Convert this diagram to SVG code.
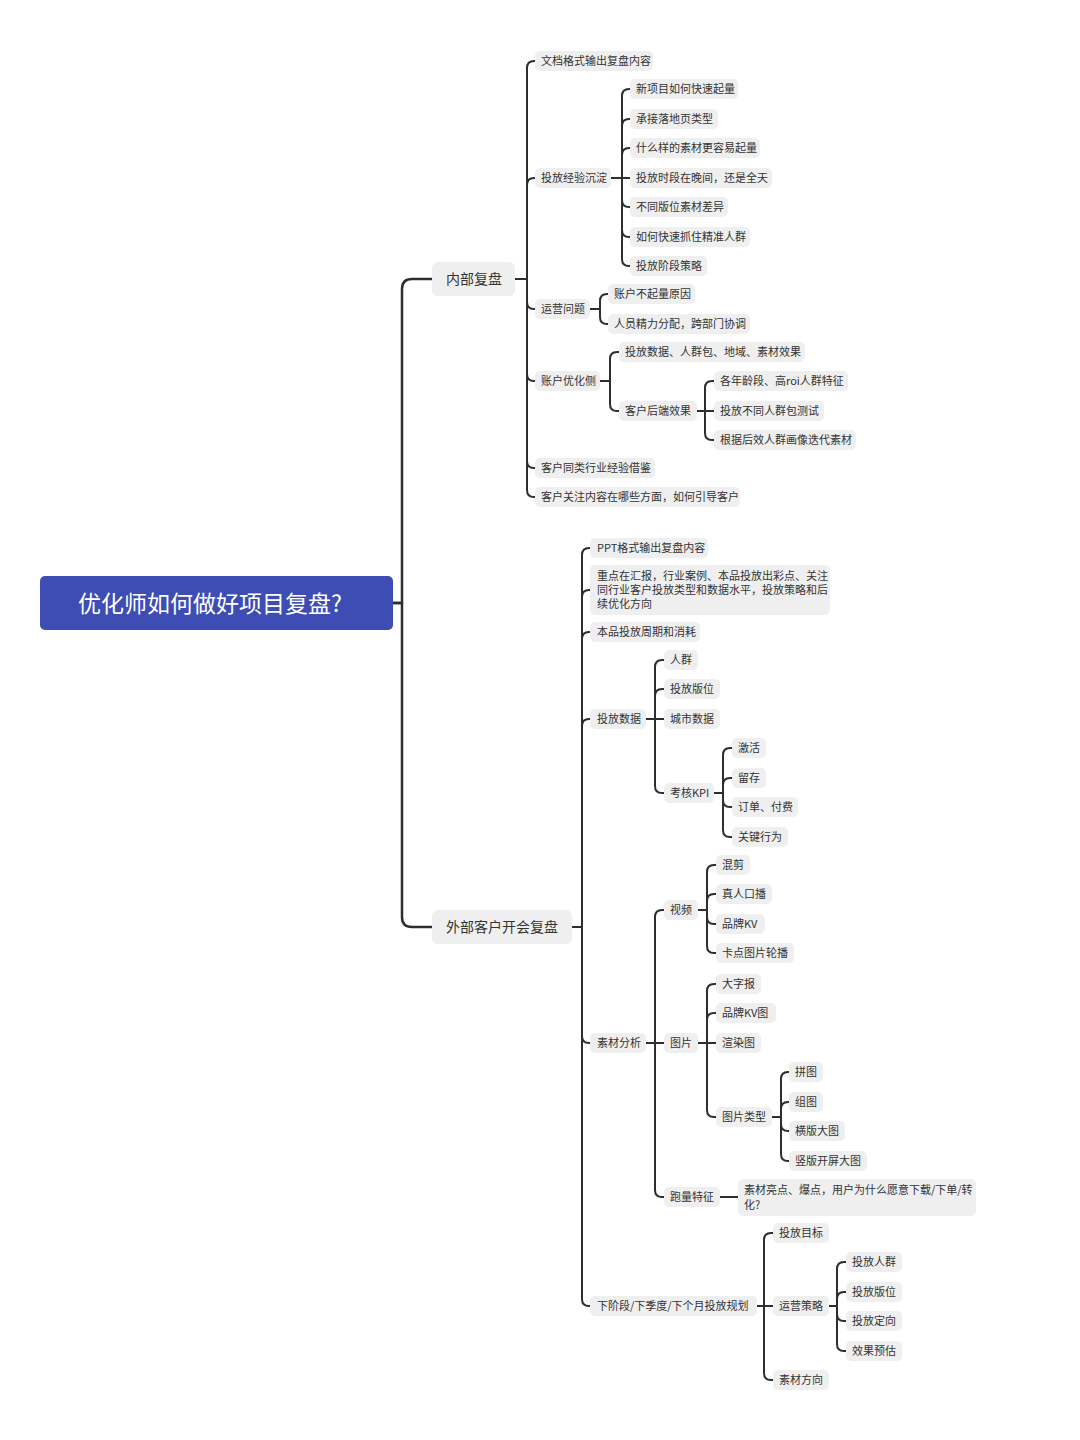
<svg xmlns="http://www.w3.org/2000/svg" width="1080" height="1440" viewBox="0 0 1080 1440">
<style>
.bg{fill:#ffffff}
.n{fill:#efefef}
.t{font-family:"Noto Sans CJK SC","Noto Sans",sans-serif;font-size:11px;fill:#333333}
.t2{font-family:"Noto Sans CJK SC","Noto Sans",sans-serif;font-size:14px;fill:#333333}
.rt{font-family:"Noto Sans CJK SC","Noto Sans",sans-serif;font-size:23px;fill:#ffffff;font-weight:400}
.c{fill:none;stroke:#2e2e2e;stroke-width:2;stroke-linecap:round;stroke-linejoin:round}
.c1{fill:none;stroke:#2e2e2e;stroke-width:2.5;stroke-linecap:round;stroke-linejoin:round}
</style>
<rect class="bg" x="0" y="0" width="1080" height="1440"/>
<g id="connectors">
<path class="c1" d="M393,603 H402 V289 Q402,279 412,279 H432"/>
<path class="c1" d="M393,603 H402 V917 Q402,927 412,927 H432"/>
<path class="c" d="M515,279 H527 V68 Q527,61 534,61 H535"/>
<path class="c" d="M515,279 H527 V185 Q527,178 534,178 H535"/>
<path class="c" d="M515,279 H527 V302 Q527,309 534,309 H535"/>
<path class="c" d="M515,279 H527 V374 Q527,381 534,381 H535"/>
<path class="c" d="M515,279 H527 V461 Q527,468 534,468 H535"/>
<path class="c" d="M515,279 H527 V490 Q527,497 534,497 H535"/>
<path class="c" d="M611,178 H622 V96 Q622,89 629,89 H630"/>
<path class="c" d="M611,178 H622 V126 Q622,119 629,119 H630"/>
<path class="c" d="M611,178 H622 V155 Q622,148 629,148 H630"/>
<path class="c" d="M611,178 H630"/>
<path class="c" d="M611,178 H622 V200 Q622,207 629,207 H630"/>
<path class="c" d="M611,178 H622 V230 Q622,237 629,237 H630"/>
<path class="c" d="M611,178 H622 V259 Q622,266 629,266 H630"/>
<path class="c" d="M590,309 H600 V301 Q600,294 607,294 H608"/>
<path class="c" d="M590,309 H600 V317 Q600,324 607,324 H608"/>
<path class="c" d="M600,381 H610 V359 Q610,352 617,352 H619"/>
<path class="c" d="M600,381 H610 V404 Q610,411 617,411 H619"/>
<path class="c" d="M697,411 H705 V388 Q705,381 712,381 H714"/>
<path class="c" d="M697,411 H714"/>
<path class="c" d="M697,411 H705 V433 Q705,440 712,440 H714"/>
<path class="c" d="M572,927 H582 V555 Q582,548 589,548 H590"/>
<path class="c" d="M572,927 H582 V597 Q582,590 589,590 H590"/>
<path class="c" d="M572,927 H582 V639 Q582,632 589,632 H590"/>
<path class="c" d="M572,927 H582 V726 Q582,719 589,719 H590"/>
<path class="c" d="M572,927 H582 V1036 Q582,1043 589,1043 H590"/>
<path class="c" d="M572,927 H582 V1299 Q582,1306 589,1306 H590"/>
<path class="c" d="M646,719 H655 V667 Q655,660 662,660 H664"/>
<path class="c" d="M646,719 H655 V696 Q655,689 662,689 H664"/>
<path class="c" d="M646,719 H664"/>
<path class="c" d="M646,719 H655 V786 Q655,793 662,793 H664"/>
<path class="c" d="M714,793 H723 V755 Q723,748 730,748 H732"/>
<path class="c" d="M714,793 H723 V785 Q723,778 730,778 H732"/>
<path class="c" d="M714,793 H723 V800 Q723,807 730,807 H732"/>
<path class="c" d="M714,793 H723 V830 Q723,837 730,837 H732"/>
<path class="c" d="M646,1043 H655 V917 Q655,910 662,910 H664"/>
<path class="c" d="M646,1043 H664"/>
<path class="c" d="M646,1043 H655 V1190 Q655,1197 662,1197 H664"/>
<path class="c" d="M698,910 H707 V872 Q707,865 714,865 H716"/>
<path class="c" d="M698,910 H707 V901 Q707,894 714,894 H716"/>
<path class="c" d="M698,910 H707 V917 Q707,924 714,924 H716"/>
<path class="c" d="M698,910 H707 V946 Q707,953 714,953 H716"/>
<path class="c" d="M698,1043 H707 V991 Q707,984 714,984 H716"/>
<path class="c" d="M698,1043 H707 V1020 Q707,1013 714,1013 H716"/>
<path class="c" d="M698,1043 H716"/>
<path class="c" d="M698,1043 H707 V1110 Q707,1117 714,1117 H716"/>
<path class="c" d="M772,1117 H781 V1079 Q781,1072 788,1072 H789"/>
<path class="c" d="M772,1117 H781 V1109 Q781,1102 788,1102 H789"/>
<path class="c" d="M772,1117 H781 V1124 Q781,1131 788,1131 H789"/>
<path class="c" d="M772,1117 H781 V1154 Q781,1161 788,1161 H789"/>
<path class="c" d="M720,1197 H738"/>
<path class="c" d="M757,1306 H764 V1240 Q764,1233 771,1233 H773"/>
<path class="c" d="M757,1306 H773"/>
<path class="c" d="M757,1306 H764 V1373 Q764,1380 771,1380 H773"/>
<path class="c" d="M829,1306 H837 V1269 Q837,1262 844,1262 H846"/>
<path class="c" d="M829,1306 H837 V1299 Q837,1292 844,1292 H846"/>
<path class="c" d="M829,1306 H837 V1314 Q837,1321 844,1321 H846"/>
<path class="c" d="M829,1306 H837 V1344 Q837,1351 844,1351 H846"/>
</g>
<g id="root"><rect x="40" y="576" width="353" height="54" rx="5" fill="#3d4db3"/><text class="rt" x="210" y="612" text-anchor="middle">优化师如何做好项目复盘?</text></g>
<g id="n-internal"><rect class="n" x="432" y="262" width="83" height="34" rx="6"/><text class="t2" x="446" y="284">内部复盘</text></g>
<g id="n-a1"><rect class="n" x="535" y="51" width="118" height="20" rx="5"/><text class="t" x="541" y="65">文档格式输出复盘内容</text></g>
<g id="n-a2"><rect class="n" x="535" y="168" width="76" height="20" rx="5"/><text class="t" x="541" y="182">投放经验沉淀</text></g>
<g id="n-a2-1"><rect class="n" x="630" y="79" width="108" height="20" rx="5"/><text class="t" x="636" y="93">新项目如何快速起量</text></g>
<g id="n-a2-2"><rect class="n" x="630" y="109" width="88" height="20" rx="5"/><text class="t" x="636" y="123">承接落地页类型</text></g>
<g id="n-a2-3"><rect class="n" x="630" y="138" width="130" height="20" rx="5"/><text class="t" x="636" y="152">什么样的素材更容易起量</text></g>
<g id="n-a2-4"><rect class="n" x="630" y="168" width="142" height="20" rx="5"/><text class="t" x="636" y="182">投放时段在晚间，还是全天</text></g>
<g id="n-a2-5"><rect class="n" x="630" y="197" width="98" height="20" rx="5"/><text class="t" x="636" y="211">不同版位素材差异</text></g>
<g id="n-a2-6"><rect class="n" x="630" y="227" width="120" height="20" rx="5"/><text class="t" x="636" y="241">如何快速抓住精准人群</text></g>
<g id="n-a2-7"><rect class="n" x="630" y="256" width="77" height="20" rx="5"/><text class="t" x="636" y="270">投放阶段策略</text></g>
<g id="n-a3"><rect class="n" x="535" y="299" width="55" height="20" rx="5"/><text class="t" x="541" y="313">运营问题</text></g>
<g id="n-a3-1"><rect class="n" x="608" y="284" width="87" height="20" rx="5"/><text class="t" x="614" y="298">账户不起量原因</text></g>
<g id="n-a3-2"><rect class="n" x="608" y="314" width="142" height="20" rx="5"/><text class="t" x="614" y="328">人员精力分配，跨部门协调</text></g>
<g id="n-a4"><rect class="n" x="535" y="371" width="65" height="20" rx="5"/><text class="t" x="541" y="385">账户优化侧</text></g>
<g id="n-a4-1"><rect class="n" x="619" y="342" width="186" height="20" rx="5"/><text class="t" x="625" y="356">投放数据、人群包、地域、素材效果</text></g>
<g id="n-a4-2"><rect class="n" x="619" y="401" width="78" height="20" rx="5"/><text class="t" x="625" y="415">客户后端效果</text></g>
<g id="n-a4-2-1"><rect class="n" x="714" y="371" width="134" height="20" rx="5"/><text class="t" x="720" y="385">各年龄段、高roi人群特征</text></g>
<g id="n-a4-2-2"><rect class="n" x="714" y="401" width="110" height="20" rx="5"/><text class="t" x="720" y="415">投放不同人群包测试</text></g>
<g id="n-a4-2-3"><rect class="n" x="714" y="430" width="142" height="20" rx="5"/><text class="t" x="720" y="444">根据后效人群画像迭代素材</text></g>
<g id="n-a5"><rect class="n" x="535" y="458" width="120" height="20" rx="5"/><text class="t" x="541" y="472">客户同类行业经验借鉴</text></g>
<g id="n-a6"><rect class="n" x="535" y="487" width="205" height="20" rx="5"/><text class="t" x="541" y="501">客户关注内容在哪些方面，如何引导客户</text></g>
<g id="n-external"><rect class="n" x="432" y="910" width="140" height="34" rx="6"/><text class="t2" x="446" y="932">外部客户开会复盘</text></g>
<g id="n-b1"><rect class="n" x="590" y="538" width="118" height="20" rx="5"/><text class="t" x="597" y="552">PPT格式输出复盘内容</text></g>
<g id="n-b2"><rect class="n" x="590" y="565" width="240" height="50" rx="5"/><text class="t" x="597" y="580">重点在汇报，行业案例、本品投放出彩点、关注</text><text class="t" x="597" y="594">同行业客户投放类型和数据水平，投放策略和后</text><text class="t" x="597" y="608">续优化方向</text></g>
<g id="n-b3"><rect class="n" x="590" y="622" width="110" height="20" rx="5"/><text class="t" x="597" y="636">本品投放周期和消耗</text></g>
<g id="n-b4"><rect class="n" x="590" y="709" width="56" height="20" rx="5"/><text class="t" x="597" y="723">投放数据</text></g>
<g id="n-b4-1"><rect class="n" x="664" y="650" width="34" height="20" rx="5"/><text class="t" x="670" y="664">人群</text></g>
<g id="n-b4-2"><rect class="n" x="664" y="679" width="56" height="20" rx="5"/><text class="t" x="670" y="693">投放版位</text></g>
<g id="n-b4-3"><rect class="n" x="664" y="709" width="56" height="20" rx="5"/><text class="t" x="670" y="723">城市数据</text></g>
<g id="n-b4-4"><rect class="n" x="664" y="783" width="50" height="20" rx="5"/><text class="t" x="670" y="797">考核KPI</text></g>
<g id="n-b4-4-1"><rect class="n" x="732" y="738" width="34" height="20" rx="5"/><text class="t" x="738" y="752">激活</text></g>
<g id="n-b4-4-2"><rect class="n" x="732" y="768" width="34" height="20" rx="5"/><text class="t" x="738" y="782">留存</text></g>
<g id="n-b4-4-3"><rect class="n" x="732" y="797" width="66" height="20" rx="5"/><text class="t" x="738" y="811">订单、付费</text></g>
<g id="n-b4-4-4"><rect class="n" x="732" y="827" width="56" height="20" rx="5"/><text class="t" x="738" y="841">关键行为</text></g>
<g id="n-b5"><rect class="n" x="590" y="1033" width="56" height="20" rx="5"/><text class="t" x="597" y="1047">素材分析</text></g>
<g id="n-b5-1"><rect class="n" x="664" y="900" width="34" height="20" rx="5"/><text class="t" x="670" y="914">视频</text></g>
<g id="n-b5-1-1"><rect class="n" x="716" y="855" width="34" height="20" rx="5"/><text class="t" x="722" y="869">混剪</text></g>
<g id="n-b5-1-2"><rect class="n" x="716" y="884" width="56" height="20" rx="5"/><text class="t" x="722" y="898">真人口播</text></g>
<g id="n-b5-1-3"><rect class="n" x="716" y="914" width="49" height="20" rx="5"/><text class="t" x="722" y="928">品牌KV</text></g>
<g id="n-b5-1-4"><rect class="n" x="716" y="943" width="78" height="20" rx="5"/><text class="t" x="722" y="957">卡点图片轮播</text></g>
<g id="n-b5-2"><rect class="n" x="664" y="1033" width="34" height="20" rx="5"/><text class="t" x="670" y="1047">图片</text></g>
<g id="n-b5-2-1"><rect class="n" x="716" y="974" width="45" height="20" rx="5"/><text class="t" x="722" y="988">大字报</text></g>
<g id="n-b5-2-2"><rect class="n" x="716" y="1003" width="60" height="20" rx="5"/><text class="t" x="722" y="1017">品牌KV图</text></g>
<g id="n-b5-2-3"><rect class="n" x="716" y="1033" width="45" height="20" rx="5"/><text class="t" x="722" y="1047">渲染图</text></g>
<g id="n-b5-2-4"><rect class="n" x="716" y="1107" width="56" height="20" rx="5"/><text class="t" x="722" y="1121">图片类型</text></g>
<g id="n-b5-2-4-1"><rect class="n" x="789" y="1062" width="34" height="20" rx="5"/><text class="t" x="795" y="1076">拼图</text></g>
<g id="n-b5-2-4-2"><rect class="n" x="789" y="1092" width="34" height="20" rx="5"/><text class="t" x="795" y="1106">组图</text></g>
<g id="n-b5-2-4-3"><rect class="n" x="789" y="1121" width="56" height="20" rx="5"/><text class="t" x="795" y="1135">横版大图</text></g>
<g id="n-b5-2-4-4"><rect class="n" x="789" y="1151" width="78" height="20" rx="5"/><text class="t" x="795" y="1165">竖版开屏大图</text></g>
<g id="n-b5-3"><rect class="n" x="664" y="1187" width="56" height="20" rx="5"/><text class="t" x="670" y="1201">跑量特征</text></g>
<g id="n-b5-3-1"><rect class="n" x="738" y="1179" width="238" height="37" rx="5"/><text class="t" x="744" y="1194">素材亮点、爆点，用户为什么愿意下载/下单/转</text><text class="t" x="744" y="1209">化?</text></g>
<g id="n-b6"><rect class="n" x="590" y="1296" width="167" height="20" rx="5"/><text class="t" x="597" y="1310">下阶段/下季度/下个月投放规划</text></g>
<g id="n-b6-1"><rect class="n" x="773" y="1223" width="56" height="20" rx="5"/><text class="t" x="779" y="1237">投放目标</text></g>
<g id="n-b6-2"><rect class="n" x="773" y="1296" width="56" height="20" rx="5"/><text class="t" x="779" y="1310">运营策略</text></g>
<g id="n-b6-2-1"><rect class="n" x="846" y="1252" width="56" height="20" rx="5"/><text class="t" x="852" y="1266">投放人群</text></g>
<g id="n-b6-2-2"><rect class="n" x="846" y="1282" width="56" height="20" rx="5"/><text class="t" x="852" y="1296">投放版位</text></g>
<g id="n-b6-2-3"><rect class="n" x="846" y="1311" width="56" height="20" rx="5"/><text class="t" x="852" y="1325">投放定向</text></g>
<g id="n-b6-2-4"><rect class="n" x="846" y="1341" width="56" height="20" rx="5"/><text class="t" x="852" y="1355">效果预估</text></g>
<g id="n-b6-3"><rect class="n" x="773" y="1370" width="56" height="20" rx="5"/><text class="t" x="779" y="1384">素材方向</text></g>
</svg>
